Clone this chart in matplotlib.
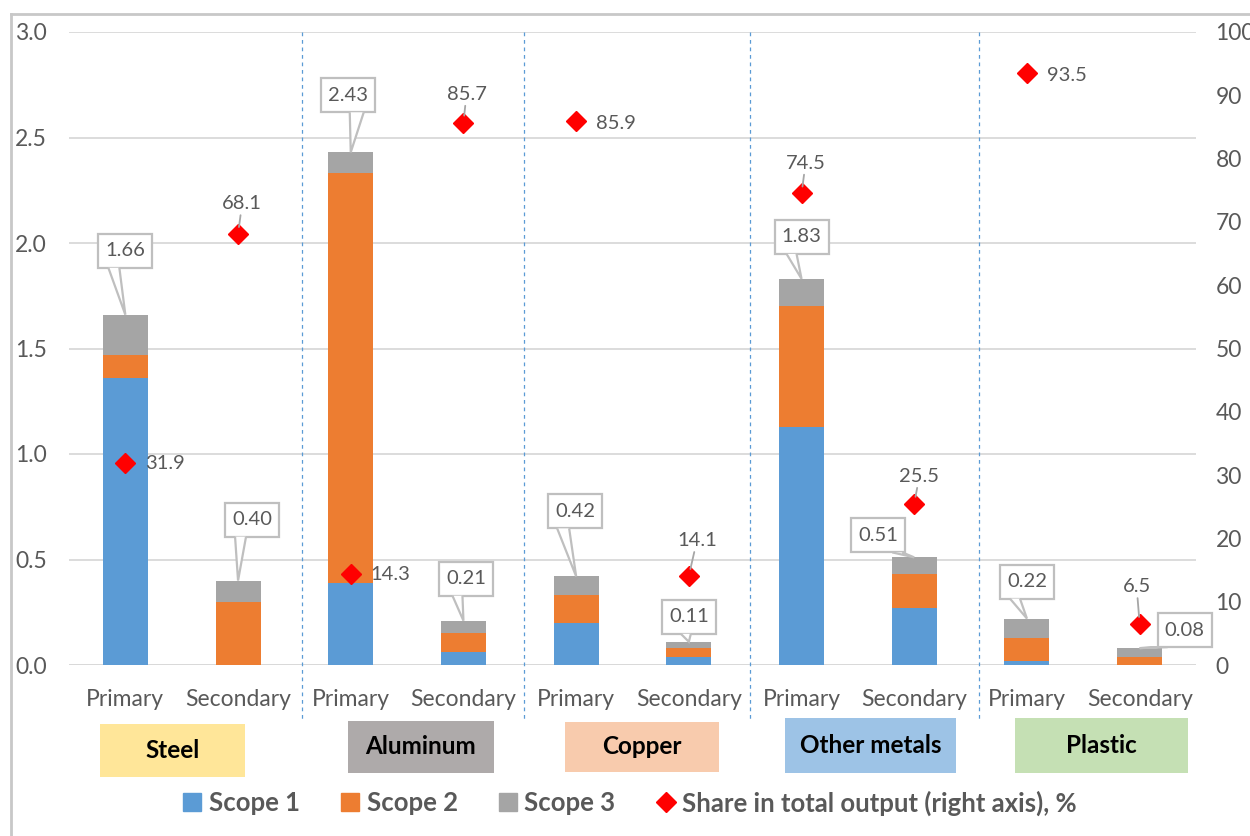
import matplotlib
matplotlib.use("Agg")
import matplotlib.pyplot as plt
import numpy as np
from matplotlib.patches import Rectangle, Polygon, Patch
from matplotlib.lines import Line2D
from matplotlib.transforms import IdentityTransform

plt.rcParams['font.family'] = ['Lato', 'DejaVu Sans']

# ---------------- data ----------------
routes = ["Primary", "Secondary"] * 5
groups = ["Steel", "Aluminum", "Copper", "Other metals", "Plastic"]
scope1 = [1.36, 0.00, 0.39, 0.06, 0.20, 0.04, 1.13, 0.27, 0.02, 0.00]
scope2 = [0.11, 0.30, 1.94, 0.09, 0.13, 0.04, 0.57, 0.16, 0.11, 0.04]
scope3 = [0.19, 0.10, 0.10, 0.06, 0.09, 0.03, 0.13, 0.08, 0.09, 0.04]
share = [31.9, 68.1, 14.3, 85.7, 85.9, 14.1, 74.5, 25.5, 93.5, 6.5]

# ---------------- style ----------------
W, H = 1250, 836
C1, C2, C3 = "#5B9BD5", "#ED7D31", "#A5A5A5"
TXT = "#595959"
GRID = "#D9D9D9"
group_colors = ["#FFE699", "#AEAAAA", "#F8CBAD", "#9DC3E6", "#C5E0B4"]

fig = plt.figure(figsize=(W / 100, H / 100), dpi=100)
ax = fig.add_axes([69 / W, 1 - 665 / H, (1196 - 69) / W, (665 - 32) / H])
ax2 = ax.twinx()

x = np.arange(len(routes))
s1 = np.array(scope1); s2 = np.array(scope2); s3 = np.array(scope3)
bw = 0.4
ax.bar(x, s1, bw, color=C1, zorder=2)
ax.bar(x, s2, bw, bottom=s1, color=C2, zorder=2)
ax.bar(x, s3, bw, bottom=s1 + s2, color=C3, zorder=2)
totals = s1 + s2 + s3

ax.set_xlim(-0.5, 9.5)
ax.set_ylim(0, 3.0)
ax.set_yticks(np.arange(0, 3.01, 0.5))
ax.set_yticklabels([f"{v:.1f}" for v in np.arange(0, 3.01, 0.5)])
ax.set_xticks(x)
ax.set_xticklabels(routes)
ax.tick_params(axis='y', length=0, pad=16, labelsize=16.5, labelcolor=TXT)
ax.tick_params(axis='x', length=0, pad=17, labelsize=16.5, labelcolor=TXT)
ax.yaxis.grid(True, color=GRID, lw=1.3)
ax.set_axisbelow(True)
for sp in ax.spines.values():
    sp.set_visible(False)
ax.axhline(0, color=GRID, lw=1.3, zorder=1)

ax2.set_ylim(0, 100)
ax2.set_yticks(np.arange(0, 101, 10))
ax2.tick_params(axis='y', length=0, pad=14, labelsize=16.5, labelcolor=TXT)
for sp in ax2.spines.values():
    sp.set_visible(False)
ax2.plot(x, share, linestyle='none', marker='D', markersize=10.5,
         color='#FF0000', zorder=5)

# share labels: (dx, dy) offset in pixels, alignment, leader
share_pos = [(20, 0, 'left', False), (4, 30, 'center', True), (20, 0, 'left', False),
             (3, 28, 'center', True), (20, -2, 'left', False), (8, 35, 'center', True),
             (4, 30, 'center', True), (5, 27, 'center', True), (20, -2, 'left', False),
             (-3, 37, 'center', True)]
for xi, v, (dx, dy, ha, lead) in zip(x, share, share_pos):
    kw = {}
    if lead:
        kw['arrowprops'] = dict(arrowstyle='-', color='#A6A6A6', lw=1.3,
                                shrinkA=0, shrinkB=5)
    ax2.annotate(f"{v:.1f}", xy=(xi, v), xytext=(dx, dy), textcoords='offset pixels',
                 ha=ha, va='center', fontsize=14.5, color=TXT, zorder=6, **kw)

# total callouts: box centre offset from bar top (pixels), tail base x offsets from box centre
callouts = [(0, 64, -17, -6), (14, 61, -17, -6), (-3, 57, 2, 16), (3, 42, -14, -4),
            (-1, 65, -18, -6), (0, 25, -8, 2), (0, 42, -15, -5), (-36, 22, 14, 24),
            (0, 37, -17, -7), (45, 18, -27, -17)]
bwpx, bhpx = 54, 34
fig.canvas.draw()
for xi, tot, (dx, dy, ta, tb) in zip(x, totals, callouts):
    tx, ty = ax.transData.transform((xi, tot))
    cx, cy = tx + dx, ty + dy
    rect = Rectangle((cx - bwpx / 2, cy - bhpx / 2), bwpx, bhpx, transform=IdentityTransform(),
                     facecolor='white', edgecolor='#BFBFBF', lw=1.6, zorder=7, clip_on=False)
    ax2.add_artist(rect)
    by = cy - bhpx / 2
    tail = Polygon([(cx + ta, by), (tx, ty), (cx + tb, by)], closed=False,
                   transform=IdentityTransform(), facecolor='white', edgecolor='#BFBFBF',
                   lw=1.6, zorder=8, clip_on=False)
    ax2.add_artist(tail)
    ax2.text(cx, cy, f"{tot:.2f}", transform=IdentityTransform(), ha='center', va='center',
             fontsize=14.5, color=TXT, zorder=9, clip_on=False)

# group dividers
for xd in [1.567, 3.537, 5.543, 7.574]:
    ax.plot([xd, xd], [1, -(722 - 665) / (665 - 32)], transform=ax.get_xaxis_transform(),
            color=C1, lw=0.9, ls=(0, (3, 3)), clip_on=False, zorder=1)

# group label boxes (image pixel boxes)
gboxes = [(100, 724, 245, 777), (348, 721, 494, 773), (565, 722, 719, 772),
          (785, 718, 956, 773), (1015, 718, 1188, 773)]
for name, col, (x0, y0, x1, y1) in zip(groups, group_colors, gboxes):
    fig.patches.append(Rectangle((x0 / W, 1 - y1 / H), (x1 - x0) / W, (y1 - y0) / H,
                                 transform=fig.transFigure, facecolor=col, edgecolor='none'))
    fig.text((x0 + x1) / 2 / W, 1 - (y0 + y1) / 2 / H, name, ha='center', va='center',
             fontsize=17.5, fontweight='bold', color='black')

# legend
handles = [Patch(color=C1, label="Scope 1"), Patch(color=C2, label="Scope 2"),
           Patch(color=C3, label="Scope 3"),
           Line2D([], [], ls='none', marker='D', color='#FF0000', markersize=10.5,
                  label="Share in total output (right axis), %")]
leg = fig.legend(handles=handles, loc='center', bbox_to_anchor=(630 / W, 1 - 803 / H),
                 ncol=4, frameon=False, handlelength=0.7, handleheight=0.7,
                 handletextpad=0.3, columnspacing=1.6,
                 prop={'size': 18.5, 'weight': 'bold'})
for t in leg.get_texts():
    t.set_color(TXT)

# outer frame
fig.add_artist(Line2D([11 / W, 11 / W], [0, 1 - 14 / H], transform=fig.transFigure,
                      color='#C8C8C8', lw=2))
fig.add_artist(Line2D([11 / W, 1], [1 - 14 / H, 1 - 14 / H], transform=fig.transFigure,
                      color='#C8C8C8', lw=2))

fig.savefig("out.png", dpi=100)
